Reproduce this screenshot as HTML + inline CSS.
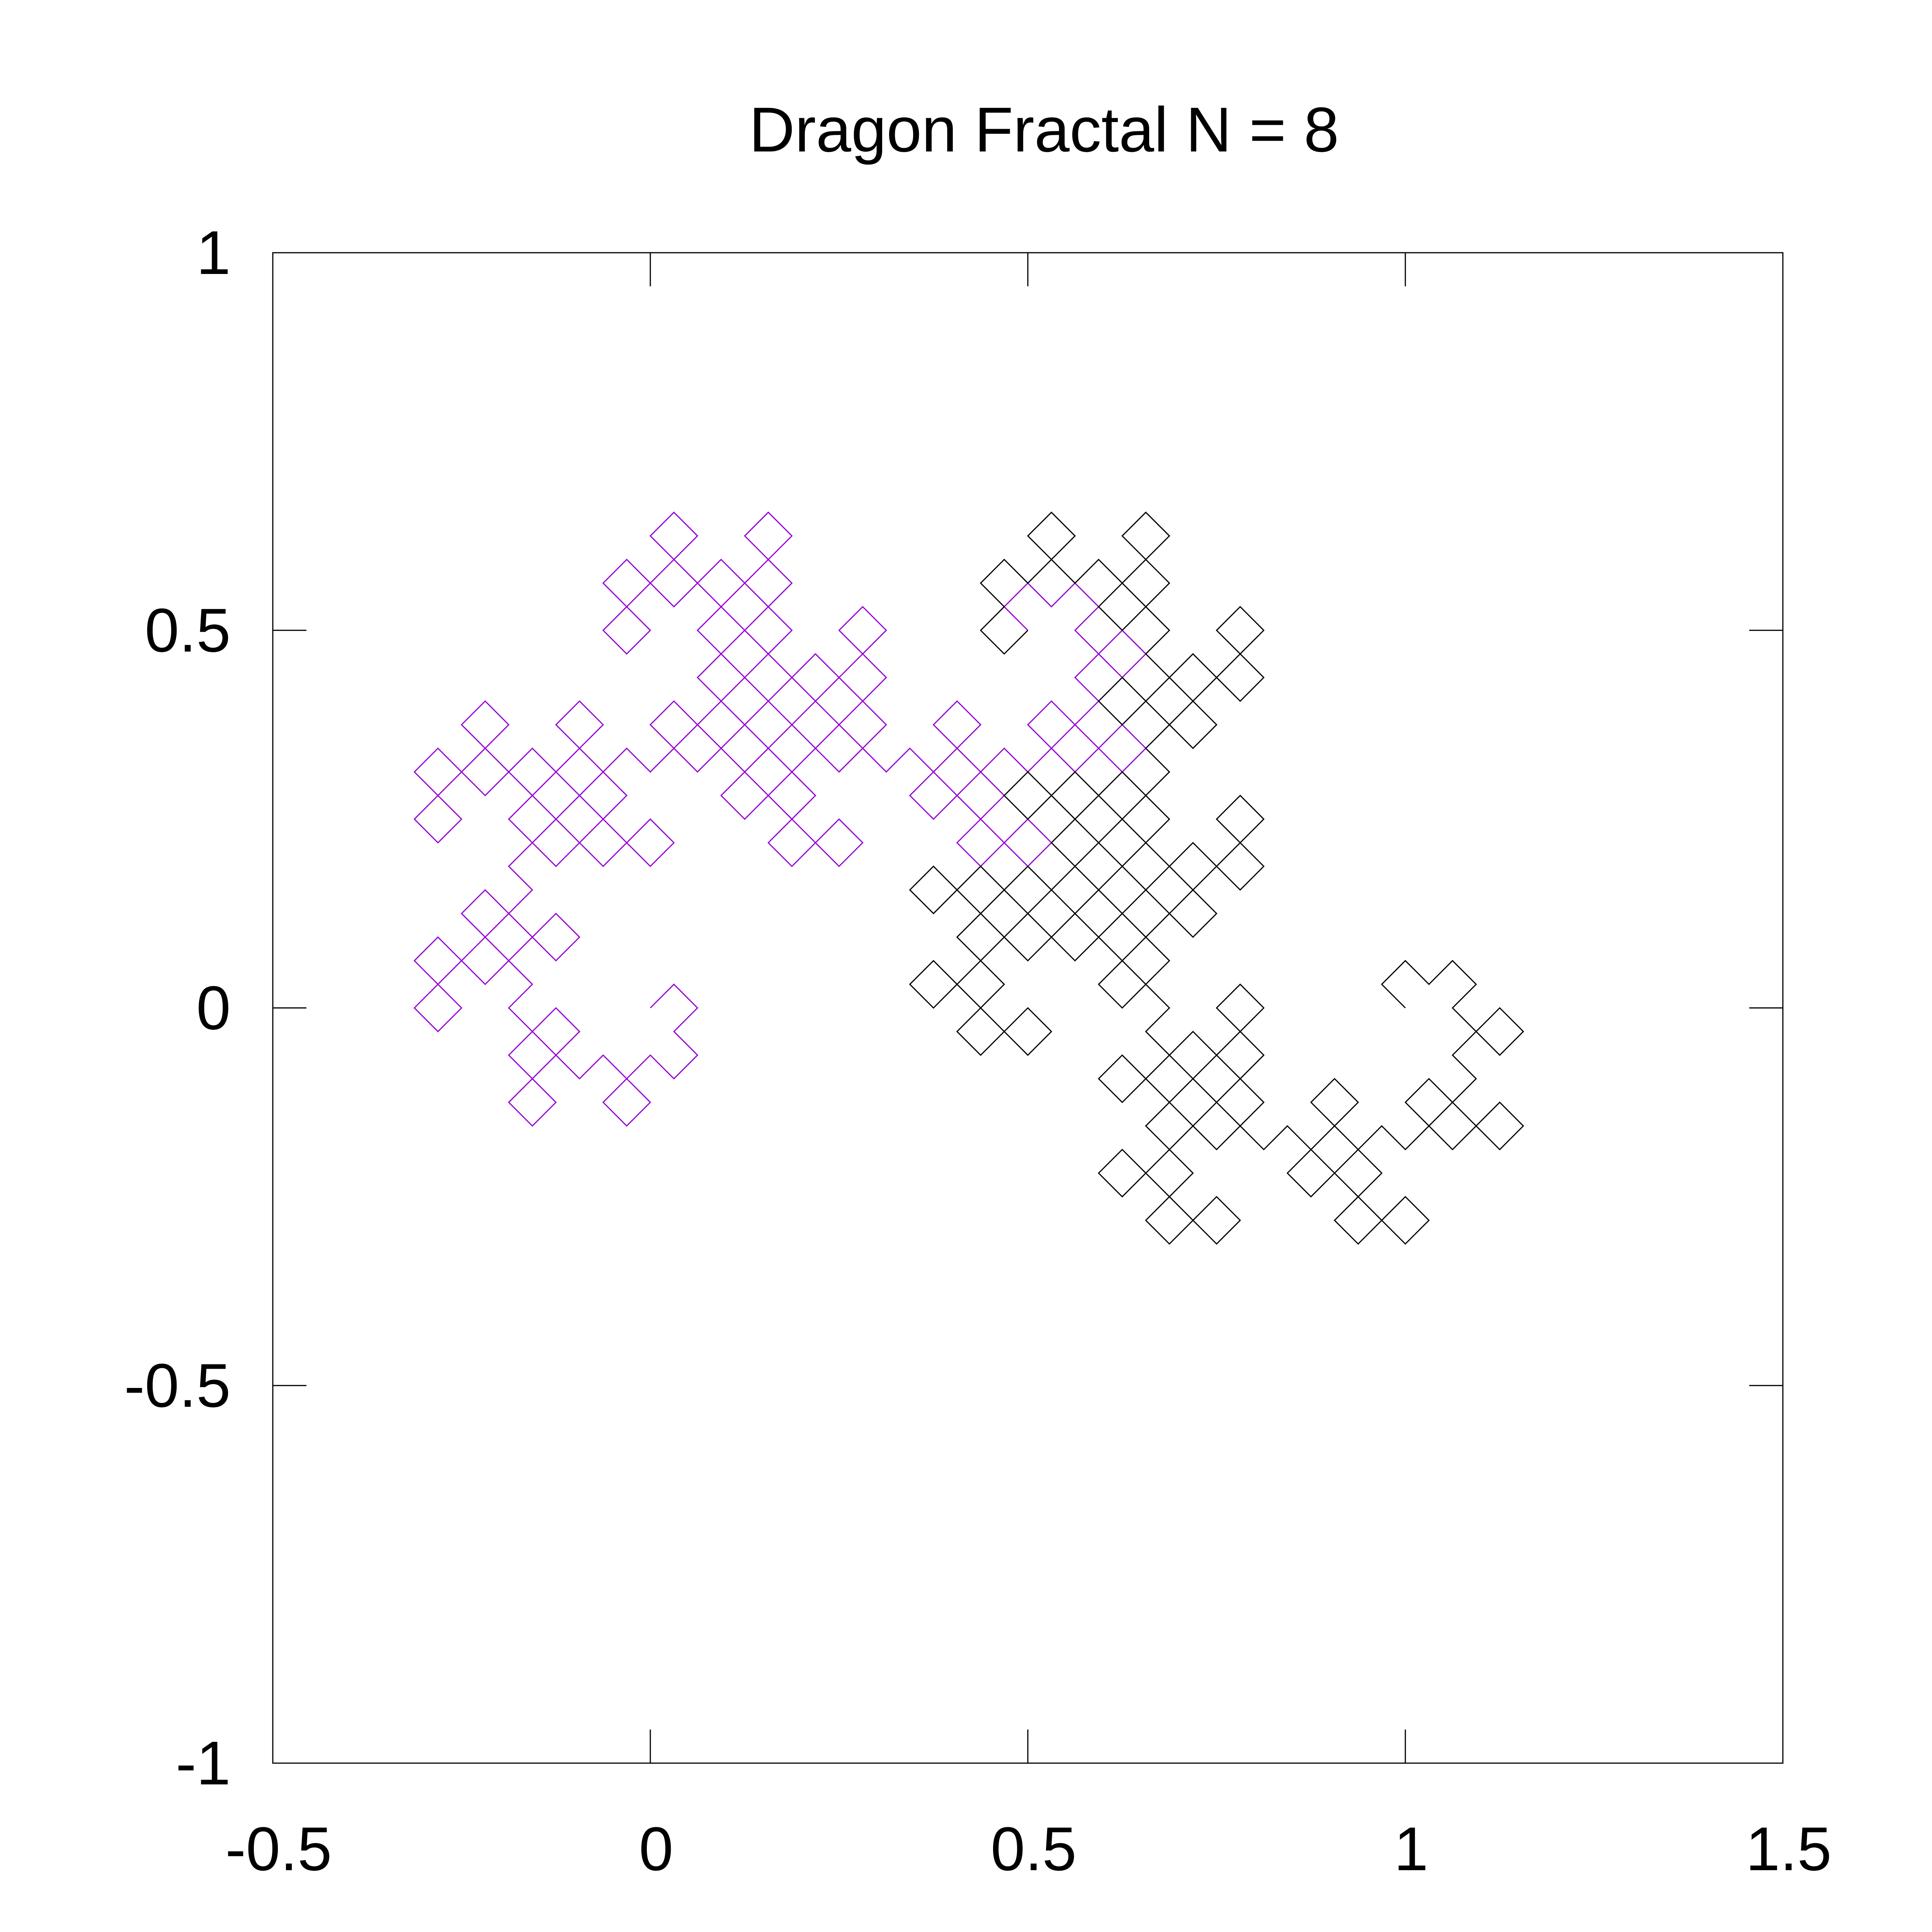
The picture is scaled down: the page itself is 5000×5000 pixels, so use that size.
<!DOCTYPE html>
<html><head><meta charset="utf-8"><style>
html,body{margin:0;padding:0;background:#fff;}
svg{display:block;}
text{font-family:"Liberation Sans",sans-serif;fill:#000;}
</style></head><body>
<svg id="chart" width="5000" height="5000" viewBox="0 0 5000 5000" xmlns="http://www.w3.org/2000/svg">
<rect x="0" y="0" width="5000" height="5000" fill="#fff"/>
<text x="2702" y="392" font-size="164" text-anchor="middle">Dragon Fractal N = 8</text>
<g id="ticks"></g>
<g id="series"></g>
<rect x="706" y="654" width="3908" height="3909" fill="none" stroke="#000" stroke-width="3"/>
</svg>
<script>
const xTicks = [-0.5, 0, 0.5, 1, 1.5];
const xTickLabels = ["-0.5", "0", "0.5", "1", "1.5"];
const yTicks = [-1, -0.5, 0, 0.5, 1];
const yTickLabels = ["-1", "-0.5", "0", "0.5", "1"];
const foldCount = [9];
const seriesColors = ["#9400d3", "#000000"];
const seriesNames = ["first-half", "second-half"];

const X0 = 706, X1 = 4614, Y0 = 4563, Y1 = 654;
function sx(v){ return X0 + (v - (-0.5)) / 2 * (X1 - X0); }
function sy(v){ return Y0 - (v - (-1)) / 2 * (Y0 - Y1); }
const NS = "http://www.w3.org/2000/svg";
const tg = document.getElementById('ticks');
const TL = 87;
xTicks.forEach((v, i) => {
  const x = sx(v);
  [[Y0, Y0 - TL], [Y1, Y1 + TL]].forEach(([a, b]) => {
    const l = document.createElementNS(NS, 'line');
    l.setAttribute('x1', x); l.setAttribute('x2', x);
    l.setAttribute('y1', a); l.setAttribute('y2', b);
    l.setAttribute('stroke', '#000'); l.setAttribute('stroke-width', '3');
    
    
    tg.appendChild(l);
  });
  const t = document.createElementNS(NS, 'text');
  t.setAttribute('x', x + 15); t.setAttribute('y', 4840);
  t.setAttribute('font-size', '160'); t.setAttribute('text-anchor', 'middle');
  t.textContent = xTickLabels[i];
  
  
  tg.appendChild(t);
});
yTicks.forEach((v, i) => {
  const y = sy(v);
  [[X0, X0 + TL], [X1, X1 - TL]].forEach(([a, b]) => {
    const l = document.createElementNS(NS, 'line');
    l.setAttribute('x1', a); l.setAttribute('x2', b);
    l.setAttribute('y1', y); l.setAttribute('y2', y);
    l.setAttribute('stroke', '#000'); l.setAttribute('stroke-width', '3');
    
    
    tg.appendChild(l);
  });
  const t = document.createElementNS(NS, 'text');
  t.setAttribute('x', 597); t.setAttribute('y', y + 55);
  t.setAttribute('font-size', '160'); t.setAttribute('text-anchor', 'end');
  t.textContent = yTickLabels[i];
  
  
  tg.appendChild(t);
});

// Build dragon curve from fold count (paper-folding turn sequence)
const n = foldCount[0];
const segs = Math.pow(2, n);
const L = Math.pow(Math.SQRT1_2, n);
let ang = n * Math.PI / 4;
let px = 0, py = 0;
const pts = [[px, py]];
for (let i = 1; i <= segs; i++) {
  px += L * Math.cos(ang); py += L * Math.sin(ang);
  pts.push([px, py]);
  if (i < segs) {
    let m = i; while (m % 2 === 0) m /= 2;
    ang += (m % 4 === 1) ? -Math.PI / 2 : Math.PI / 2;
  }
}
const half = segs / 2;
const sg = document.getElementById('series');
[[0, half], [half, segs]].forEach(([a, b], k) => {
  let d = '';
  for (let i = a; i <= b; i++) d += (i === a ? 'M' : 'L') + sx(pts[i][0]).toFixed(1) + ' ' + sy(pts[i][1]).toFixed(1);
  const p = document.createElementNS(NS, 'path');
  p.setAttribute('d', d);
  p.setAttribute('fill', 'none');
  p.setAttribute('stroke', seriesColors[k]);
  p.setAttribute('stroke-width', '3');
  
  
  sg.appendChild(p);
});
</script>
</body></html>
